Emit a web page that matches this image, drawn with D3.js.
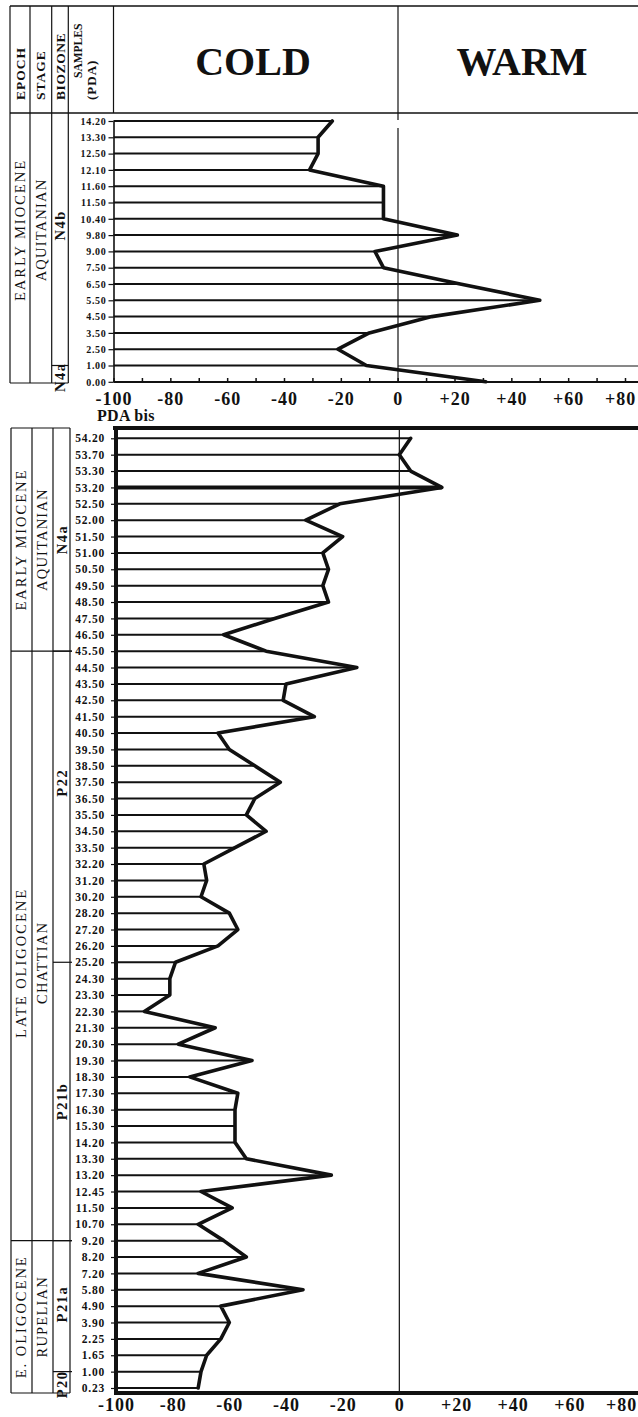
<!DOCTYPE html>
<html>
<head>
<meta charset="utf-8">
<script src="https://cdn.jsdelivr.net/npm/d3@7"></script>
<style>
html,body{margin:0;padding:0;background:#fff;}
svg{display:block;}
text{font-family:"Liberation Serif","Times New Roman",serif;fill:#111;}
</style>
</head>
<body>
<svg id="chart" width="638" height="1417"></svg>
<script>
// ---------------- DATA ----------------
const topSamples = ["14.20","13.30","12.50","12.10","11.60","11.50","10.40","9.80","9.00","7.50","6.50","5.50","4.50","3.50","2.50","1.00","0.00"];
const topValues  = [-23,-28,-28,-31,-5,-5,-5,21,-8,-5,22,50,12,-10,-21,-11,31];

const bottomSamples = ["54.20","53.70","53.30","53.20","52.50","52.00","51.50","51.00","50.50","49.50","48.50","47.50","46.50","45.50","44.50","43.50","42.50","41.50","40.50","39.50","38.50","37.50","36.50","35.50","34.50","33.50","32.20","31.20","30.20","28.20","27.20","26.20","25.20","24.30","23.30","22.30","21.30","20.30","19.30","18.30","17.30","16.30","15.30","14.20","13.30","13.20","12.45","11.50","10.70","9.20","8.20","7.20","5.80","4.90","3.90","2.25","1.65","1.00","0.23"];
const bottomValues  = [4,0,4,15,-21,-33,-20,-27,-25,-27,-25,-44,-62,-47,-15,-40,-41,-30,-64,-60,-51,-42,-51,-54,-47,-58,-69,-68,-70,-60,-57,-64,-79,-81,-81,-90,-65,-78,-52,-74,-57,-58,-58,-58,-54,-24,-70,-59,-71,-62,-54,-71,-34,-63,-60,-63,-68,-70,-71];

const xTicks = [-100,-90,-80,-70,-60,-50,-40,-30,-20,-10,0,10,20,30,40,50,60,70,80];
const xTickLabels = ["-100","-80","-60","-40","-20","0","+20","+40","+60","+80"];

const headerColumns = ["EPOCH","STAGE","BIOZONE","SAMPLES","(PDA)"];
const panelTitles = ["COLD","WARM"];

const topEpochs   = [{name:"EARLY MIOCENE", from:"14.20", to:"0.00"}];
const topStages   = [{name:"AQUITANIAN", from:"14.20", to:"0.00"}];
const topZones    = [{name:"N4b", from:"14.20", to:"1.00"},{name:"N4a", from:"1.00", to:"0.00"}];

const bottomEpochs = [{name:"EARLY MIOCENE", from:"54.20", to:"45.50"},{name:"LATE OLIGOCENE", from:"45.50", to:"9.20"},{name:"E. OLIGOCENE", from:"9.20", to:"0.23"}];
const bottomStages = [{name:"AQUITANIAN", from:"54.20", to:"45.50"},{name:"CHATTIAN", from:"45.50", to:"9.20"},{name:"RUPELIAN", from:"9.20", to:"0.23"}];
const bottomZones  = [{name:"N4a", from:"54.20", to:"45.50"},{name:"P22", from:"45.50", to:"25.20"},{name:"P21b", from:"25.20", to:"9.20"},{name:"P21a", from:"9.20", to:"1.00"},{name:"P20", from:"1.00", to:"0.23"}];

const bottomTitle = "PDA bis";

// ---------------- DRAW ----------------
const svg = d3.select("#chart");
const ink = "#111";

function line(x1,y1,x2,y2,w){
  svg.append("line").attr("x1",x1).attr("y1",y1).attr("x2",x2).attr("y2",y2)
    .attr("stroke",ink).attr("stroke-width",w||1);
}
function vtext(x,y,str,size,weight,anchor,ls){
  svg.append("text").attr("transform",`translate(${x},${y}) rotate(-90)`)
    .attr("text-anchor",anchor||"middle").attr("dominant-baseline","central")
    .attr("font-size",size).attr("font-weight",weight||"normal")
    .attr("letter-spacing",ls||0).text(str);
}

// scales
const xTop = d3.scaleLinear().domain([-100,80]).range([113.5,625]);
const xBot = d3.scaleLinear().domain([-100,80]).range([116,626]);
const yTop = d3.scalePoint().domain(topSamples).range([121,381.8]);
const yBot = d3.scalePoint().domain(bottomSamples).range([438.3,1388]);

// ---- header ----
const colX = [10,30,51.7,68.3,113.5];
line(10,6,638,6,1.3);
line(10,113,638,113,1.5);
colX.forEach(x=>line(x,6,x,113,1.2));
line(398,6,398,120,1.2);
vtext(20,100,headerColumns[0],13.5,"bold","start",1);
vtext(40.5,100,headerColumns[1],13.5,"bold","start",1);
vtext(60,100,headerColumns[2],13.5,"bold","start",0.6);
vtext(77.5,78,headerColumns[3],11.5,"bold","start",0);
vtext(91.5,100,headerColumns[4],13,"bold","start",1);
svg.append("text").attr("x",253).attr("y",75).attr("text-anchor","middle")
  .attr("font-size",40).attr("font-weight","bold").text(panelTitles[0]);
svg.append("text").attr("x",522).attr("y",75).attr("text-anchor","middle")
  .attr("font-size",40).attr("font-weight","bold").text(panelTitles[1]);

// ---- top strat table ----
const tTop = 113, tBot = 383;
[10,30,51.7,68.3].forEach(x=>line(x,tTop,x,tBot,1.2));
line(10,tBot,68.3,tBot,1.2);

function drawSegments(segs, samples, yS, top, bot, xL, xR, cx, size, weight, ls, offsets, drawBounds){
  segs.forEach((s,i)=>{
    const y0 = s.from===samples[0] ? top : yS(s.from);
    const y1 = s.to===samples[samples.length-1] ? bot : yS(s.to);
    if(i>0 && drawBounds) line(xL, y0, xR, y0, 1.2);
    const off = (offsets && offsets[s.name]) || 0;
    vtext(cx,(y0+y1)/2+off,s.name,size,weight,"middle",ls);
  });
}
drawSegments(topEpochs, topSamples, yTop, tTop, tBot, 10, 68.3, 20, 14.5, "normal", 2, {"EARLY MIOCENE":-18}, true);
drawSegments(topStages, topSamples, yTop, tTop, tBot, 30, 68.3, 40.5, 14.5, "normal", 1.2, {"AQUITANIAN":-18}, true);
drawSegments(topZones, topSamples, yTop, tTop, tBot, 51.7, 68.3, 60, 14.5, "bold", 1.5, {"N4b":-14,"N4a":3}, true);

// ---- top chart ----
line(398,128,398,382,1.2);
line(398,366,638,366,1);
line(113.5,382,638,382,2);

const topData = topSamples.map((s,i)=>({s, v:topValues[i]}));
svg.append("g").selectAll("line").data(topData.slice(0,-1)).join("line")
  .attr("x1",xTop(-100)).attr("x2",d=>xTop(d.v))
  .attr("y1",d=>yTop(d.s)).attr("y2",d=>yTop(d.s))
  .attr("stroke",ink).attr("stroke-width",2);
svg.append("path").datum(topData)
  .attr("d",d3.line().x(d=>xTop(d.v)).y(d=>yTop(d.s)))
  .attr("fill","none").attr("stroke",ink).attr("stroke-width",3.6)
  .attr("stroke-linejoin","round").attr("stroke-linecap","round");

const yAxTop = svg.append("g").attr("transform",`translate(${xTop(-100)},0)`)
  .call(d3.axisLeft(yTop).tickSize(5).tickPadding(2).tickSizeOuter(0));
yAxTop.select(".domain").attr("stroke",ink).attr("stroke-width",1.6);
yAxTop.selectAll(".tick line").attr("stroke",ink).attr("stroke-width",1.2);
yAxTop.selectAll(".tick text").attr("font-family","Liberation Serif").attr("font-size",10)
  .attr("font-weight","bold").attr("letter-spacing",0.7).attr("fill",ink);

const fmt = d => (d>0?"+":"")+d;
const xAxTop = svg.append("g").attr("transform","translate(0,382)")
  .call(d3.axisBottom(xTop).tickValues(xTicks).tickSize(-4).tickSizeOuter(0).tickPadding(10)
    .tickFormat(d => xTickLabels.includes(fmt(d)) ? fmt(d) : ""));
xAxTop.select(".domain").remove();
xAxTop.selectAll(".tick line").attr("stroke",ink).attr("stroke-width",1.5);
xAxTop.selectAll(".tick text").attr("font-family","Liberation Serif").attr("font-size",18)
  .attr("font-weight","bold").attr("letter-spacing",1).attr("fill",ink)
  .attr("dx",d=>d===80?-5:0);

// ---- bottom title ----
svg.append("text").attr("x",97).attr("y",421).attr("font-size",16).attr("font-weight","bold")
  .attr("letter-spacing",0.3).text(bottomTitle);

// ---- bottom strat table ----
const bTop = 428, bBot = 1393;
[11,32,53,70].forEach(x=>line(x,bTop,x,bBot,1.2));
line(11,bTop,70,bTop,1.2);
line(11,bBot,70,bBot,1.2);
drawSegments(bottomEpochs, bottomSamples, yBot, bTop, bBot, 11, 72, 21, 14.5, "normal", 2, {"LATE OLIGOCENE":17}, true);
drawSegments(bottomStages, bottomSamples, yBot, bTop, bBot, 32, 72, 42, 14.5, "normal", 1.2, {"CHATTIAN":17}, false);
drawSegments(bottomZones, bottomSamples, yBot, bTop, bBot, 53, 72, 61.5, 14.5, "bold", 1.5, {"P22":-24,"P21a":-2,"P20":2}, true);

// ---- bottom chart ----
line(xBot(0),bTop,xBot(0),bBot,1.2);
const botData = bottomSamples.map((s,i)=>({s, v:bottomValues[i]}));
svg.append("g").selectAll("line").data(botData).join("line")
  .attr("x1",xBot(-100)).attr("x2",d=>xBot(d.v))
  .attr("y1",d=>yBot(d.s)).attr("y2",d=>yBot(d.s))
  .attr("stroke",ink).attr("stroke-width",d=>d.s==="53.20"?4:2);
svg.append("path").datum(botData)
  .attr("d",d3.line().x(d=>xBot(d.v)).y(d=>yBot(d.s)))
  .attr("fill","none").attr("stroke",ink).attr("stroke-width",3.6)
  .attr("stroke-linejoin","round").attr("stroke-linecap","round");

const yAxBot = svg.append("g").attr("transform",`translate(${xBot(-100)},0)`)
  .call(d3.axisLeft(yBot).tickSize(5).tickPadding(6).tickSizeOuter(0));
yAxBot.select(".domain").remove();
yAxBot.selectAll(".tick line").attr("stroke",ink).attr("stroke-width",1.2);
yAxBot.selectAll(".tick text").attr("font-family","Liberation Serif").attr("font-size",11.5)
  .attr("font-weight","bold").attr("letter-spacing",0.8).attr("fill",ink);

// thick frame
line(113,bTop,638,bTop,4);
line(xBot(-100),bTop-2,xBot(-100),bBot+2,4);
line(xBot(-100)-2,bBot,638,bBot,4);

const xAxBot = svg.append("g").attr("transform",`translate(0,${bBot})`)
  .call(d3.axisBottom(xBot).tickValues(xTicks.filter(d=>xTickLabels.includes(fmt(d))))
    .tickSize(0).tickSizeOuter(0).tickPadding(5).tickFormat(fmt));
xAxBot.select(".domain").remove();
xAxBot.selectAll(".tick text").attr("font-family","Liberation Serif").attr("font-size",18)
  .attr("font-weight","bold").attr("letter-spacing",1).attr("fill",ink)
  .attr("dx",d=>d===80?-5:0);
</script>
</body>
</html>
